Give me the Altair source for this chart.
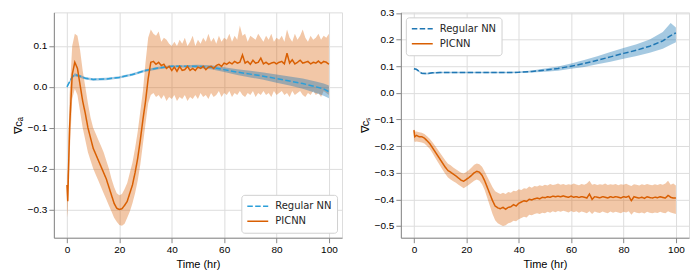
import altair as alt
import pandas as pd

# ---------------- data ----------------
T_FINE = [0, 0.3] + list(range(1, 101))
T_COARSE = [0, 1, 2, 3, 5, 7, 10, 15, 20, 25, 30, 35, 40, 45, 50, 55, 60, 65, 70, 75, 80, 85, 90, 95, 98, 100]

# Left panel -- PICNN
A_PIC_MEAN = [-0.24, -0.28, -0.10, 0.03, 0.06, 0.045, 0.005, -0.035, -0.065, -0.10, -0.125,
              -0.15, -0.165, -0.18, -0.195, -0.21, -0.225, -0.245, -0.265, -0.285, -0.297,
              -0.300, -0.298, -0.29, -0.28, -0.26, -0.24, -0.21, -0.175, -0.13, -0.08,
              -0.035, 0.02, 0.06, 0.062, 0.055, 0.06, 0.052, 0.055, 0.045, 0.05,
              0.04, 0.048, 0.038, 0.05, 0.04, 0.042, 0.05, 0.04, 0.045, 0.04,
              0.048, 0.045, 0.05, 0.042, 0.048, 0.05, 0.045, 0.052, 0.055, 0.05,
              0.058, 0.055, 0.06, 0.056, 0.062, 0.058, 0.06, 0.078, 0.058, 0.062,
              0.055, 0.065, 0.058, 0.06, 0.07, 0.056, 0.06, 0.055, 0.058, 0.06,
              0.056, 0.06, 0.062, 0.056, 0.082, 0.058, 0.066, 0.056, 0.06, 0.065,
              0.058, 0.06, 0.062, 0.056, 0.06, 0.058, 0.063, 0.057, 0.062, 0.06, 0.055]
A_PIC_HI = [-0.22, -0.2, -0.02, 0.10, 0.13, 0.125, 0.09, 0.04, 0.0, -0.04, -0.075,
            -0.10, -0.115, -0.13, -0.145, -0.16, -0.18, -0.20, -0.225, -0.245, -0.26,
            -0.265, -0.262, -0.25, -0.235, -0.21, -0.185, -0.15, -0.11, -0.06, -0.01,
            0.06, 0.12, 0.14, 0.13, 0.125, 0.135, 0.11, 0.12, 0.115, 0.105,
            0.10, 0.11, 0.1, 0.115, 0.105, 0.12, 0.1, 0.11, 0.125, 0.1,
            0.115, 0.105, 0.12, 0.11, 0.13, 0.11, 0.12, 0.105, 0.125, 0.11,
            0.12, 0.115, 0.13, 0.11, 0.125, 0.115, 0.15, 0.125, 0.13, 0.11,
            0.125, 0.12, 0.115, 0.13, 0.12, 0.11, 0.125, 0.115, 0.13, 0.11,
            0.12, 0.115, 0.125, 0.11, 0.14, 0.12, 0.11, 0.13, 0.115, 0.125,
            0.14, 0.12, 0.11, 0.125, 0.115, 0.12, 0.13, 0.115, 0.125, 0.12, 0.13]
A_PIC_LO = [-0.32, -0.3, -0.17, -0.03, -0.005, -0.02, -0.06, -0.1, -0.13, -0.16, -0.18,
            -0.2, -0.215, -0.23, -0.245, -0.26, -0.275, -0.29, -0.305, -0.32, -0.33,
            -0.338, -0.34, -0.335, -0.32, -0.305, -0.285, -0.26, -0.23, -0.19, -0.14,
            -0.09, -0.04, -0.02, -0.015, -0.025, -0.02, -0.03, -0.02, -0.035, -0.025,
            -0.03, -0.02, -0.035, -0.025, -0.03, -0.02, -0.035, -0.025, -0.03, -0.02,
            -0.03, -0.015, -0.025, -0.02, -0.03, -0.015, -0.025, -0.02, -0.01, -0.025,
            -0.015, -0.02, -0.01, -0.025, -0.015, -0.02, -0.01, -0.02, -0.025, -0.015,
            -0.02, -0.01, -0.025, -0.015, -0.02, -0.01, -0.02, -0.015, -0.025, -0.01,
            -0.02, -0.015, -0.01, -0.02, -0.015, -0.025, -0.01, -0.02, -0.015, -0.01,
            -0.02, -0.025, -0.015, -0.02, -0.01, -0.02, -0.015, -0.025, -0.01, -0.015, -0.02]

# Left panel -- Regular NN
A_NN_MEAN = [0.0, 0.012, 0.024, 0.03, 0.026, 0.021, 0.018, 0.019, 0.023, 0.03, 0.04, 0.046, 0.05,
             0.05, 0.05, 0.048, 0.042, 0.036, 0.031, 0.026, 0.02, 0.014, 0.008, 0.0, -0.005, -0.012]
A_NN_LO = [-0.004, 0.009, 0.02, 0.026, 0.022, 0.018, 0.015, 0.016, 0.02, 0.027, 0.037, 0.043, 0.047,
           0.047, 0.046, 0.043, 0.036, 0.029, 0.023, 0.017, 0.01, 0.003, -0.005, -0.015, -0.022, -0.028]
A_NN_HI = [0.003, 0.015, 0.027, 0.033, 0.029, 0.024, 0.021, 0.022, 0.026, 0.033, 0.043, 0.049, 0.053,
           0.053, 0.054, 0.053, 0.048, 0.043, 0.039, 0.035, 0.03, 0.025, 0.02, 0.013, 0.008, 0.003]

# Right panel -- Regular NN
B_NN_MEAN = [0.09, 0.088, 0.08, 0.073, 0.072, 0.075, 0.076, 0.076, 0.076, 0.076, 0.076, 0.076, 0.077,
             0.08, 0.085, 0.091, 0.1, 0.11, 0.122, 0.135, 0.148, 0.16, 0.175, 0.195, 0.215, 0.225]
B_NN_LO = [0.087, 0.085, 0.077, 0.07, 0.069, 0.072, 0.073, 0.073, 0.073, 0.073, 0.073, 0.073, 0.074,
           0.076, 0.079, 0.083, 0.09, 0.097, 0.107, 0.117, 0.128, 0.138, 0.15, 0.165, 0.18, 0.19]
B_NN_HI = [0.093, 0.091, 0.083, 0.076, 0.075, 0.078, 0.079, 0.079, 0.079, 0.079, 0.079, 0.079, 0.08,
           0.084, 0.091, 0.099, 0.11, 0.123, 0.137, 0.153, 0.168, 0.182, 0.2, 0.228, 0.262, 0.245]

# Right panel -- PICNN
B_PIC_MEAN = [-0.14, -0.165, -0.16, -0.165, -0.165, -0.17, -0.18, -0.19, -0.205, -0.22, -0.235,
              -0.25, -0.265, -0.28, -0.292, -0.298, -0.305, -0.312, -0.32, -0.328, -0.332,
              -0.325, -0.318, -0.31, -0.3, -0.295, -0.298, -0.31, -0.33, -0.355, -0.38,
              -0.405, -0.425, -0.432, -0.435, -0.43, -0.437, -0.43, -0.428, -0.42, -0.425,
              -0.415, -0.41, -0.405, -0.408, -0.4, -0.402, -0.398, -0.395, -0.398, -0.392,
              -0.394, -0.39, -0.392, -0.388, -0.39, -0.388, -0.39, -0.387, -0.39, -0.392,
              -0.388, -0.392, -0.39, -0.393, -0.39, -0.392, -0.395, -0.38, -0.4, -0.39,
              -0.392, -0.394, -0.39, -0.392, -0.395, -0.39, -0.393, -0.39, -0.392, -0.395,
              -0.39, -0.392, -0.388, -0.405, -0.39, -0.393, -0.395, -0.392, -0.396, -0.39,
              -0.393, -0.395, -0.392, -0.394, -0.39, -0.393, -0.395, -0.385, -0.392, -0.395, -0.395]
B_PIC_HI = [-0.135, -0.145, -0.145, -0.148, -0.15, -0.155, -0.163, -0.172, -0.185, -0.198, -0.212,
            -0.226, -0.24, -0.254, -0.266, -0.272, -0.28, -0.287, -0.294, -0.3, -0.303,
            -0.297, -0.29, -0.28, -0.27, -0.265, -0.268, -0.278, -0.295, -0.315, -0.335,
            -0.355, -0.37, -0.375, -0.38, -0.375, -0.38, -0.372, -0.375, -0.368, -0.37,
            -0.362, -0.365, -0.358, -0.36, -0.352, -0.356, -0.35, -0.352, -0.347, -0.35,
            -0.345, -0.348, -0.342, -0.346, -0.344, -0.34, -0.345, -0.342, -0.346, -0.343,
            -0.345, -0.34, -0.344, -0.347, -0.342, -0.345, -0.34, -0.33, -0.345, -0.342,
            -0.346, -0.343, -0.345, -0.34, -0.346, -0.343, -0.345, -0.342, -0.347, -0.343,
            -0.345, -0.341, -0.346, -0.35, -0.343, -0.345, -0.348, -0.343, -0.346, -0.342,
            -0.345, -0.347, -0.343, -0.346, -0.342, -0.345, -0.34, -0.33, -0.345, -0.34, -0.348]
B_PIC_LO = [-0.175, -0.185, -0.183, -0.185, -0.187, -0.19, -0.2, -0.21, -0.225, -0.242, -0.258,
            -0.274, -0.29, -0.305, -0.318, -0.325, -0.332, -0.338, -0.345, -0.352, -0.358,
            -0.352, -0.345, -0.338, -0.33, -0.325, -0.33, -0.343, -0.365, -0.395, -0.425,
            -0.455, -0.478, -0.49, -0.495, -0.5, -0.497, -0.49, -0.487, -0.48, -0.482,
            -0.475, -0.47, -0.465, -0.468, -0.458, -0.46, -0.455, -0.452, -0.455, -0.45,
            -0.452, -0.447, -0.45, -0.445, -0.448, -0.444, -0.447, -0.443, -0.446, -0.449,
            -0.444, -0.448, -0.445, -0.45, -0.446, -0.448, -0.452, -0.445, -0.455, -0.446,
            -0.449, -0.451, -0.446, -0.449, -0.452, -0.446, -0.45, -0.447, -0.449, -0.452,
            -0.447, -0.449, -0.445, -0.458, -0.447, -0.45, -0.452, -0.449, -0.453, -0.447,
            -0.45, -0.452, -0.449, -0.451, -0.447, -0.45, -0.452, -0.445, -0.449, -0.452, -0.455]

SERIES = ["Regular NN", "PICNN"]
ORANGE = "#d95f02"
FONT = "DejaVu Sans"


def make_legend(orient):
    return alt.Legend(title=None, orient=orient, offset=5,
                      symbolType="stroke", symbolSize=440,
                      symbolStrokeWidth=1.6, labelFontSize=10,
                      labelFont=FONT, labelColor="#262626",
                      fillColor="white", strokeColor="#d0d0d0",
                      cornerRadius=3, padding=5, rowPadding=2, labelOffset=6,
                      clipHeight=13)


def panel(nn_mean, nn_lo, nn_hi, pic_mean, pic_lo, pic_hi, ydomain, yticks, ytitle,
          blue, legend_orient, width, height):
    fine = pd.DataFrame({"t": T_FINE, "m": pic_mean, "lo": pic_lo, "hi": pic_hi, "s": "PICNN"})
    coarse = pd.DataFrame({"t": T_COARSE, "m": nn_mean, "lo": nn_lo, "hi": nn_hi, "s": "Regular NN"})
    lines = pd.concat([coarse, fine], ignore_index=True)
    lines["o"] = lines["s"].map({"Regular NN": 1, "PICNN": 0})

    xaxis = alt.Axis(values=[0, 20, 40, 60, 80, 100], title="Time (hr)", format="d",
                     titleFontWeight="normal", labelOverlap=False)
    yaxis = alt.Axis(values=yticks, format=".1f", title=ytitle,
                     titleFontWeight="normal", labelOverlap=False, labelFlush=False)
    xscale = alt.Scale(domain=[-5, 105], nice=False, zero=False)
    yscale = alt.Scale(domain=ydomain, nice=False, zero=False)
    x = alt.X("t:Q", scale=xscale, axis=xaxis)

    band_pic = alt.Chart(fine).mark_area(color=ORANGE, opacity=0.35).encode(
        x=x, y=alt.Y("lo:Q", scale=yscale, axis=yaxis), y2="hi:Q")
    band_nn = alt.Chart(coarse).mark_area(color="#1f77b4", opacity=0.4).encode(
        x=x, y=alt.Y("lo:Q", scale=yscale, axis=yaxis), y2="hi:Q")
    line = alt.Chart(lines).mark_line(strokeWidth=1.5).encode(
        x=x,
        y=alt.Y("m:Q", scale=yscale, axis=yaxis),
        color=alt.Color("s:N", scale=alt.Scale(domain=SERIES, range=[blue, ORANGE]),
                        legend=make_legend(legend_orient)),
        strokeDash=alt.StrokeDash("s:N", scale=alt.Scale(domain=SERIES, range=[[5.5, 2.4], [1, 0]]),
                                  legend=make_legend(legend_orient)),
        detail="s:N",
        order="o:Q",
    )
    return alt.layer(band_pic, band_nn, line).properties(width=width, height=height)


left = panel(A_NN_MEAN, A_NN_LO, A_NN_HI, A_PIC_MEAN, A_PIC_LO, A_PIC_HI,
             [-0.369, 0.182], [-0.3, -0.2, -0.1, 0.0, 0.1], "∇cₐ",
             "#2b9fd9", "bottom-right", 289, 226)
right = panel(B_NN_MEAN, B_NN_LO, B_NN_HI, B_PIC_MEAN, B_PIC_LO, B_PIC_HI,
              [-0.544, 0.302], [-0.5, -0.4, -0.3, -0.2, -0.1, 0.0, 0.1, 0.2, 0.3], "∇cₛ",
              "#1f77b4", "top-left", 289, 226)

chart = alt.hconcat(left, right, spacing=15).resolve_scale(
    color="independent", strokeDash="independent"
).resolve_legend(color="independent", strokeDash="independent").configure_view(
    stroke="#333333", strokeWidth=1
).configure_axis(
    labelFont=FONT, labelFontSize=10, labelColor="#262626",
    titleFont=FONT, titleFontSize=10, titleFontWeight="normal", titleColor="#262626",
    grid=True, gridColor="#cccccc", gridWidth=1,
    domain=False, tickColor="#333333", tickSize=3.5, labelPadding=2, titlePadding=8,
).configure(padding={"left": 3, "top": -1, "right": 0, "bottom": 0}, background="white")

chart.save("out.html", embed_options={"renderer": "svg", "actions": False})
